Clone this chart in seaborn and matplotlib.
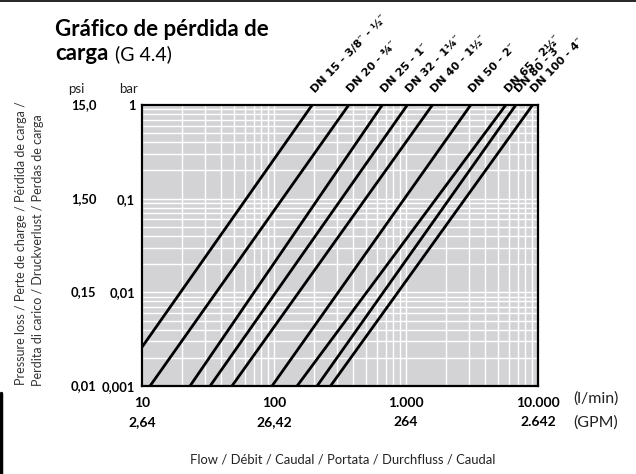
import numpy as np
import pandas as pd
import matplotlib
matplotlib.use("Agg")
import matplotlib.pyplot as plt
import matplotlib.transforms as mtransforms
from matplotlib.lines import Line2D
import seaborn as sns

# ---- data ----
dn_labels = ["DN 15 - 3/8″ - ½″", "DN 20 - ¾″", "DN 25 - 1″", "DN 32 - 1¼″",
             "DN 40 - 1½″", "DN 50 - 2″", "DN 65 - 2½″", "DN 80 - 3″", "DN 100 - 4″"]
flow_start = [10, 11.5, 23.1, 32.8, 48, 96.6, 149.6, 212, 268]          # l/min
dp_start = [0.0026, 0.001, 0.001, 0.001, 0.001, 0.001, 0.001, 0.001, 0.001]  # bar
flow_end = [194.5, 368, 661, 1023, 1585, 3090, 5700, 6790, 9100]         # l/min
dp_end = [1, 1, 1, 1, 1, 1, 1, 1, 1]                                      # bar

x_ticks = [10, 100, 1000, 10000]
x_labels_lpm = ["10", "100", "1.000", "10.000"]
x_labels_gpm = ["2,64", "26,42", "264", "2.642"]
y_ticks = [0.001, 0.01, 0.1, 1]
y_labels_bar = ["0,001", "0,01", "0,1", "1"]
y_labels_psi = ["0,01", "0,15", "1,50", "15,0"]

rows = []
for lab, f0, p0, f1, p1 in zip(dn_labels, flow_start, dp_start, flow_end, dp_end):
    rows.append({"dn": lab, "flow": f0, "dp": p0})
    rows.append({"dn": lab, "flow": f1, "dp": p1})
df = pd.DataFrame(rows)

sns.set_theme(style="white")
FAM = ["Lato", "DejaVu Sans"]
plt.rcParams["font.family"] = FAM

fig = plt.figure(figsize=(6.36, 4.74), dpi=100)
W, H = 636, 474
L, R, T, B = 142, 538, 105, 386
ax = fig.add_axes([L / W, 1 - B / H, (R - L) / W, (B - T) / H])
ax.set_facecolor("#d3d3d5")

sns.lineplot(data=df, x="flow", y="dp", hue="dn", palette=["black"] * len(dn_labels),
             estimator=None, sort=False, legend=False, lw=2.0, ax=ax)
ax.set_xscale("log")
ax.set_yscale("log")
ax.set_xlim(10, 10000)
ax.set_ylim(0.001, 1)
ax.grid(which="both", color="white", lw=1.0)
ax.set_axisbelow(True)
for s in ax.spines.values():
    s.set_color("black")
    s.set_linewidth(1.6)
    s.set_visible(True)
ax.set_xlabel("")
ax.set_ylabel("")

ax.set_xticks(x_ticks)
ax.set_xticklabels(x_labels_lpm, fontsize=10, fontweight="bold", color="black")
ax.set_yticks(y_ticks)
ax.set_yticklabels(y_labels_bar, fontsize=9.3, fontweight="bold", color="black")
ax.tick_params(axis="x", which="both", length=0, pad=8)
ax.tick_params(axis="y", which="both", length=0, pad=5)
ax.minorticks_on()
ax.tick_params(which="minor", length=0)

# GPM row
tx = mtransforms.blended_transform_factory(ax.transData, ax.transAxes)
for xv, lab in zip(x_ticks, x_labels_gpm):
    ax.text(xv, -36 / (B - T), lab, transform=tx, ha="center", va="center",
            fontsize=10, fontweight="bold", color="black")

# psi column
ty = mtransforms.blended_transform_factory(ax.transAxes, ax.transData)
for yv, lab in zip(y_ticks, y_labels_psi):
    ax.text((71 - L) / (R - L), yv, lab, transform=ty, ha="left", va="center",
            fontsize=9.3, fontweight="bold", color="black")

# DN labels
for lab, f1 in zip(dn_labels, flow_end):
    ax.annotate(lab, xy=(f1, 1), xytext=(2, 8.5), textcoords="offset points",
                rotation=46, rotation_mode="anchor", ha="left", va="baseline",
                fontsize=8, fontweight="bold", color="black", annotation_clip=False,
                family="DejaVu Sans")

# figure texts
def fx(px):
    return px / W

def fy(py):
    return 1 - py / H

fig.text(fx(55), fy(29), "Gráfico de pérdida de", fontsize=16, fontweight="bold",
         ha="left", va="center", color="black")
fig.text(fx(55), fy(54), "carga", fontsize=16, fontweight="bold",
         ha="left", va="center", color="black")
fig.text(fx(115), fy(54), "(G 4.4)", fontsize=14, ha="left", va="center", color="black")
fig.text(fx(76), fy(89), "psi", fontsize=9.5, ha="center", va="center", color="#222222")
fig.text(fx(129), fy(89), "bar", fontsize=9.5, ha="center", va="center", color="#222222")
fig.text(fx(573), fy(399), "(l/min)", fontsize=11.5, ha="left", va="center", color="#222222")
fig.text(fx(573), fy(423), "(GPM)", fontsize=11.5, ha="left", va="center", color="#222222")
fig.text(fx(343), fy(459), "Flow / Débit / Caudal / Portata / Durchfluss / Caudal",
         fontsize=9.4, ha="center", va="center", color="#222222")
fig.text(fx(21), fy(243), "Pressure loss / Perte de charge / Pérdida de carga /",
         fontsize=9, rotation=90, ha="center", va="center", color="#333333")
fig.text(fx(38), fy(250), "Perdita di carico / Druckverlust / Perdas de carga",
         fontsize=9, rotation=90, ha="center", va="center", color="#333333")

# page edge marks
fig.add_artist(Line2D([0, 1], [fy(0.5), fy(0.5)], transform=fig.transFigure, color="black", lw=1.2))
fig.add_artist(Line2D([fx(1), fx(1)], [fy(393), 0], transform=fig.transFigure, color="black", lw=2.5))

fig.savefig("out.png", dpi=100)
